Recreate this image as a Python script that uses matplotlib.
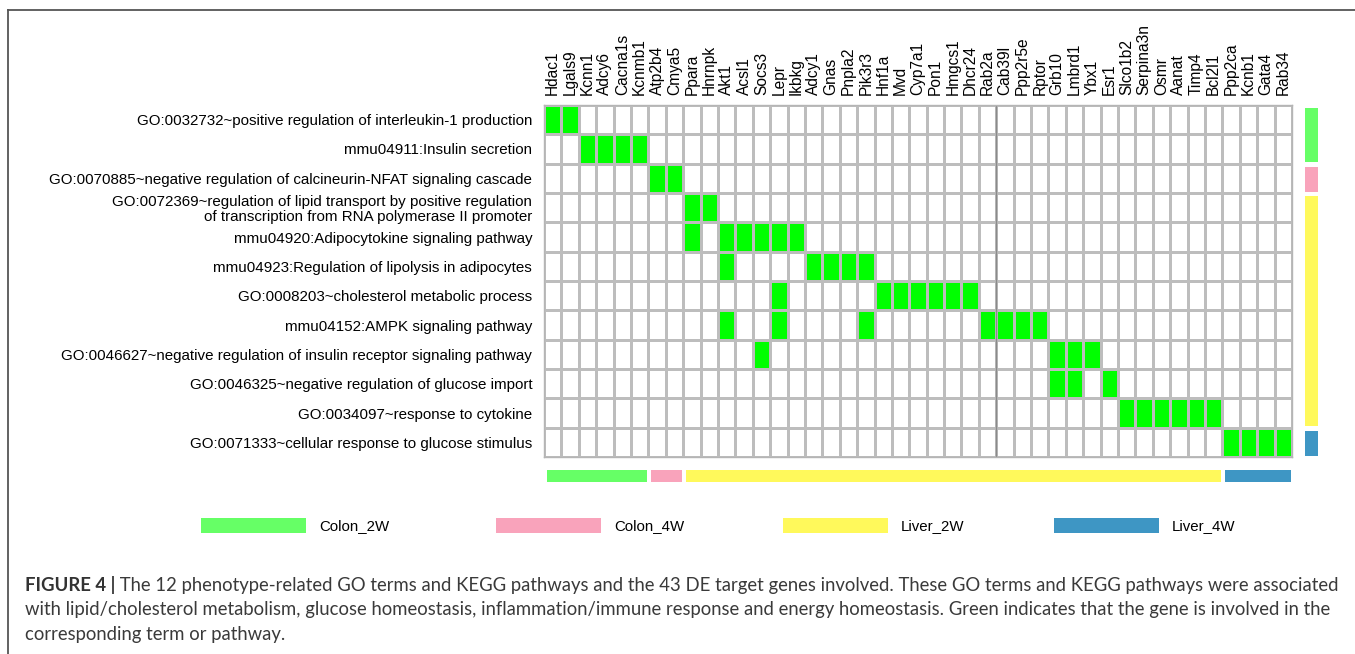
import numpy as np
import matplotlib
matplotlib.use("Agg")
import matplotlib.pyplot as plt
from matplotlib.colors import ListedColormap
from matplotlib.patches import Rectangle
from matplotlib.lines import Line2D

plt.rcParams['font.family'] = ['Liberation Sans', 'DejaVu Sans']

# genes (columns) and terms (rows)
genes = ['Hdac1', 'Lgals9', 'Kcnn1', 'Adcy6', 'Cacna1s', 'Kcnmb1', 'Atp2b4', 'Cmya5',
         'Ppara', 'Hnrnpk', 'Akt1', 'Acsl1', 'Socs3', 'Lepr', 'Ikbkg', 'Adcy1', 'Gnas',
         'Pnpla2', 'Pik3r3', 'Hnf1a', 'Mvd', 'Cyp7a1', 'Pon1', 'Hmgcs1', 'Dhcr24',
         'Rab2a', 'Cab39l', 'Ppp2r5e', 'Rptor', 'Grb10', 'Lmbrd1', 'Ybx1', 'Esr1',
         'Slco1b2', 'Serpina3n', 'Osmr', 'Aanat', 'Timp4', 'Bcl2l1', 'Ppp2ca', 'Kcnb1',
         'Gata4', 'Rab34']

terms = [
    'GO:0032732~positive regulation of interleukin-1 production',
    'mmu04911:Insulin secretion',
    'GO:0070885~negative regulation of calcineurin-NFAT signaling cascade',
    'GO:0072369~regulation of lipid transport by positive regulation\nof transcription from RNA polymerase II promoter',
    'mmu04920:Adipocytokine signaling pathway',
    'mmu04923:Regulation of lipolysis in adipocytes',
    'GO:0008203~cholesterol metabolic process',
    'mmu04152:AMPK signaling pathway',
    'GO:0046627~negative regulation of insulin receptor signaling pathway',
    'GO:0046325~negative regulation of glucose import',
    'GO:0034097~response to cytokine',
    'GO:0071333~cellular response to glucose stimulus',
]

term_genes = [
    ['Hdac1', 'Lgals9'],
    ['Kcnn1', 'Adcy6', 'Cacna1s', 'Kcnmb1'],
    ['Atp2b4', 'Cmya5'],
    ['Ppara', 'Hnrnpk'],
    ['Ppara', 'Akt1', 'Acsl1', 'Socs3', 'Lepr', 'Ikbkg'],
    ['Akt1', 'Adcy1', 'Gnas', 'Pnpla2', 'Pik3r3'],
    ['Lepr', 'Hnf1a', 'Mvd', 'Cyp7a1', 'Pon1', 'Hmgcs1', 'Dhcr24'],
    ['Akt1', 'Lepr', 'Pik3r3', 'Rab2a', 'Cab39l', 'Ppp2r5e', 'Rptor'],
    ['Socs3', 'Grb10', 'Lmbrd1', 'Ybx1'],
    ['Grb10', 'Lmbrd1', 'Esr1'],
    ['Slco1b2', 'Serpina3n', 'Osmr', 'Aanat', 'Timp4', 'Bcl2l1'],
    ['Ppp2ca', 'Kcnb1', 'Gata4', 'Rab34'],
]

# groups
group_names = ['Colon_2W', 'Colon_4W', 'Liver_2W', 'Liver_4W']
group_colors = ['#66ff66', '#f9a3bb', '#fff95b', '#3e96c4']
group_gene_counts = [6, 2, 31, 4]
group_term_counts = [2, 1, 8, 1]

caption_bold = 'FIGURE 4 |'
caption_lines = [
    ' The 12 phenotype-related GO terms and KEGG pathways and the 43 DE target genes involved. These GO terms and KEGG pathways were associated',
    'with lipid/cholesterol metabolism, glucose homeostasis, inflammation/immune response and energy homeostasis. Green indicates that the gene is involved in the',
    'corresponding term or pathway.',
]

W, H = 1355, 654


def fx(px):
    return px / W


def fy(py):
    return 1 - py / H


fig = plt.figure(figsize=(W / 100, H / 100), dpi=100)

# heatmap
ax = fig.add_axes([fx(544), fy(457), fx(1292 - 544), (457 - 105) / H])
matrix = np.zeros((len(terms), len(genes)))
for i, gl in enumerate(term_genes):
    for g in gl:
        matrix[i, genes.index(g)] = 1

ax.pcolormesh(np.arange(len(genes) + 1), np.arange(len(terms) + 1), matrix,
              cmap=ListedColormap(['white', '#00ff00']), vmin=0, vmax=1,
              edgecolors='#bdbdbd', linewidth=1.0)
ax.set_xlim(0, len(genes))
ax.set_ylim(len(terms), 0)
for s in ax.spines.values():
    s.set_color('#b5b5b5')
    s.set_linewidth(1.0)
# slightly darker separator seen in the original
ax.axvline(genes.index('Cab39l'), color='#8a8a8a', lw=1.0)

ax.xaxis.tick_top()
ax.set_xticks(np.arange(len(genes)) + 0.5)
ax.set_xticklabels(genes, rotation=90, fontsize=11.2, va='bottom', ha='center')
ax.set_yticks(np.arange(len(terms)) + 0.5)
ax.set_yticklabels(terms, fontsize=10.9, ha='right', linespacing=1.1)
ax.tick_params(length=0, pad=7, axis='x')
ax.tick_params(length=0, pad=8.5, axis='y')

# side and bottom group bars
t0 = 0
g0 = 0
for name, col, nt, ng in zip(group_names, group_colors, group_term_counts, group_gene_counts):
    ax.add_patch(Rectangle((43.74, t0 + 0.1), 0.74, nt - 0.14, facecolor=col,
                           edgecolor='none', clip_on=False))
    ax.add_patch(Rectangle((g0 + 0.15, 12.44), ng - 0.22, 0.41, facecolor=col,
                           edgecolor='none', clip_on=False))
    t0 += nt
    g0 += ng

# legend
leg_x = [201, 496, 783, 1054]
for name, col, x in zip(group_names, group_colors, leg_x):
    fig.add_artist(Rectangle((fx(x), fy(533)), fx(105), 15 / H, facecolor=col,
                             edgecolor='none', transform=fig.transFigure))
    fig.text(fx(x + 118), fy(526), name, fontsize=10.8, va='center', ha='left')

# frame
fig.add_artist(Line2D([fx(8), 1], [fy(9.5), fy(9.5)], color='#555555', lw=1.3,
                      transform=fig.transFigure))
fig.add_artist(Line2D([fx(8), fx(8)], [fy(9.5), 0], color='#555555', lw=1.3,
                      transform=fig.transFigure))

# caption
cap_font = ['Lato', 'DejaVu Sans']
cap_size = 13.35
bt = fig.text(fx(25), fy(591), caption_bold, fontsize=cap_size, fontweight='bold',
              family=cap_font, color='#333333', va='baseline')
fig.canvas.draw()
bb = bt.get_window_extent().transformed(fig.transFigure.inverted())
fig.text(bb.x1, fy(591), caption_lines[0], fontsize=cap_size, family=cap_font,
         color='#3a3a3a', va='baseline')
fig.text(fx(25), fy(615.5), caption_lines[1], fontsize=cap_size, family=cap_font,
         color='#3a3a3a', va='baseline')
fig.text(fx(25), fy(640), caption_lines[2], fontsize=cap_size, family=cap_font,
         color='#3a3a3a', va='baseline')

fig.savefig('out.png', dpi=100)
